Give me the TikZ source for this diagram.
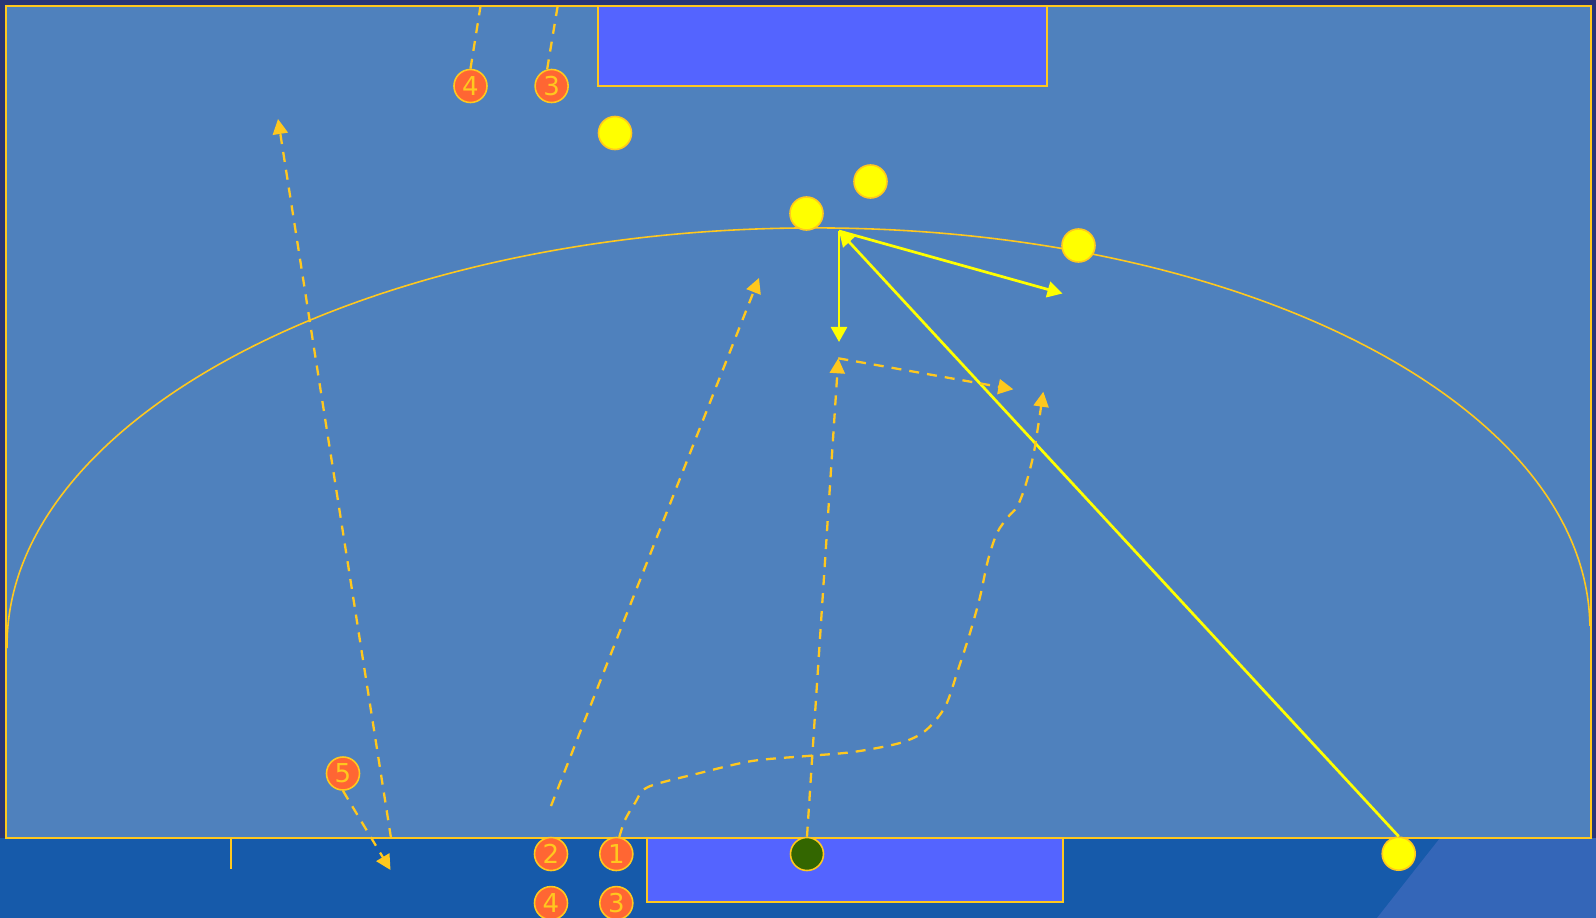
\documentclass[tikz,border=0pt]{standalone}
\usepackage{xcolor}
\usepackage{fontspec}
\setmainfont{DejaVu Sans}
\usepackage{tikz}
\usetikzlibrary{arrows.meta, positioning, calc}
\definecolor{mynavy}{RGB}{40,54,120}
\definecolor{myblue}{RGB}{22,90,170}
\definecolor{mylight}{RGB}{52,102,184}
\definecolor{myfield}{RGB}{79,129,189}
\definecolor{mygoal}{RGB}{84,100,255}
\definecolor{mygold}{RGB}{255,200,30}
\definecolor{myyellow}{RGB}{255,255,0}
\definecolor{myorange}{RGB}{255,102,51}
\definecolor{mygreen}{RGB}{51,102,0}
\tikzset{
  goal/.style={draw=mygold, fill=mygoal, line width=0.57pt},
  yplayer/.style={circle, draw=mygold, fill=myyellow,
    minimum size=0.33cm, inner sep=0pt, line width=0.45pt},
  gplayer/.style={yplayer, fill=mygreen},
  oplayer/.style={circle, draw=mygold, fill=myorange,
    minimum size=0.33cm, inner sep=0pt, line width=0.45pt,
    text=mygold, font=\fontsize{7.4}{8}\selectfont},
  arrow/.style={-{Triangle[length=0.15cm, width=0.16cm]}, line width=0.77pt, color=myyellow},
  dasharrow/.style={-{Triangle[length=0.15cm, width=0.15cm]}, line width=0.65pt,
    color=mygold, dash pattern=on 0.1cm off 0.08cm},
  line/.style={line width=0.57pt, color=mygold}
}

\begin{document}
\begin{tikzpicture}[x=0.01cm, y=-0.01cm]
  \useasboundingbox (0,0) rectangle (1596,918);
  \clip (0,0) rectangle (1596,918);

  % background and pitch
  \fill[mynavy] (0,0) rectangle (1596,918);
  \fill[myblue] (0,838) rectangle (1596,918);
  \fill[mylight] (1440,838) -- (1596,838) -- (1596,918) -- (1377,918) -- cycle;
  \draw[line, fill=myfield] (6,6) rectangle (1591,838);
  \begin{scope}[rotate around={0.8:(798.5,637)}]
    \draw[line, line width=0.45pt] (7,637) arc[start angle=180, end angle=360, x radius=791.5, y radius=409];
  \end{scope}
  \draw[goal] (598,6) rectangle (1047,86);
  \draw[goal] (647,838) rectangle (1063,902);
  \draw[line] (231,838) -- (231,869);

  % players
  \node[yplayer] (y1) at (615,133) {};
  \node[yplayer] (y2) at (870.5,181.5) {};
  \node[yplayer] (y3) at (806.5,213.5) {};
  \node[yplayer] (y4) at (1078.5,245.5) {};
  \node[yplayer] (y5) at (1398.7,853.7) {};
  \node[gplayer] (g) at (807,854) {};

  \node[oplayer] (a4) at (470.5,86) {4};
  \node[oplayer, right=0.465cm of a4] (a3) {3};
  \node[oplayer] (o5) at (343,773.5) {5};
  \node[oplayer] (o2) at (551,854) {2};
  \node[oplayer, right=0.307cm of o2] (o1) {1};
  \node[oplayer, below=0.145cm of o2] (o4) {4};
  \node[oplayer, below=0.145cm of o1] (o3) {3};

  % passes
  \coordinate (P) at (839,231);
  \coordinate (Pd) at (839,342);
  \coordinate (Pr) at (1062.5,293.5);
  \draw[arrow] (y5.north) -- (P);
  \draw[arrow] (P) -- (Pd);
  \draw[arrow] (P) -- (Pr);

  % runs
  \coordinate (t5) at (390.5,870);
  \coordinate (s5) at (391,838);
  \coordinate (e5) at (278,119);
  \coordinate (s2) at (551,806);
  \coordinate (e2) at (759,278);
  \coordinate (eg) at (838.3,358.3);
  \coordinate (ep) at (1013.3,389.3);
  \coordinate (e1) at (1043.3,391.7);
  \coordinate (n4) at (484.7,-20);
  \coordinate (n3) at (562,-20);
  \draw[dasharrow] (o5.south) -- (t5);
  \draw[dasharrow] (s5) -- (e5);
  \draw[dasharrow] (s2) -- (e2);
  \draw[dasharrow] (g.north) -- (eg);
  \draw[dasharrow] (eg) -- (ep);
  \draw[dasharrow] plot[smooth, tension=0.5] coordinates {(o1.80) (625,820) (635,803) (648,787)
    (700,773) (752,761) (807,756) (853,752) (900,743) (925,731) (945,707) (958,670) (970,633)
    (980,597) (988,560) (997,533) (1008,517) (1017,507) (1025,487) (1033,457) (1038,427) (e1)};
  \draw[dasharrow] (a4.north) -- (n4);
  \draw[dasharrow] (a3.105) -- (n3);
\end{tikzpicture}
\end{document}
